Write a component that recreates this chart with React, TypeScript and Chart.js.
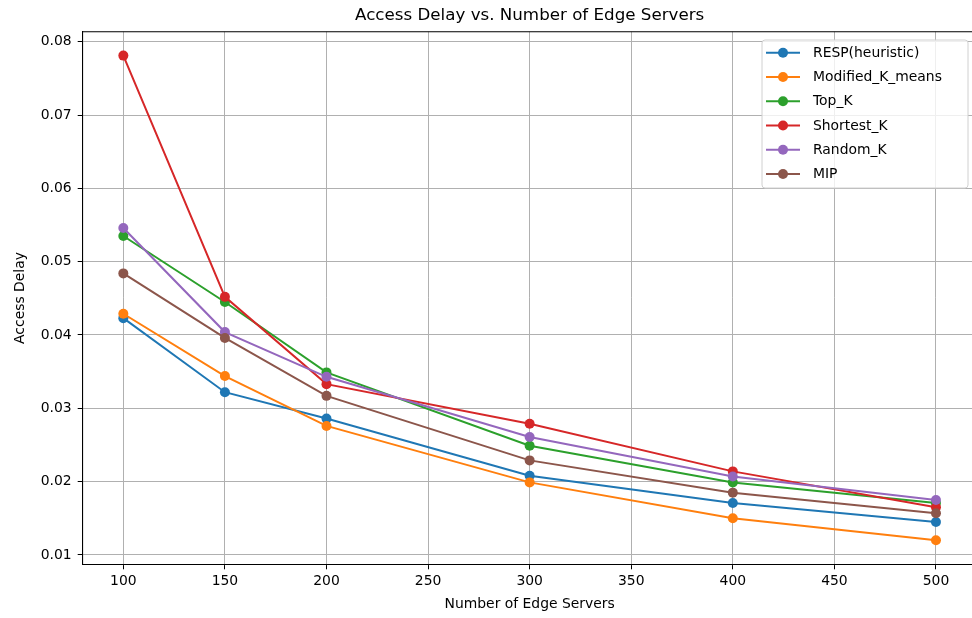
import React, { useEffect, useRef } from "react";
import { Chart, registerables } from "chart.js";

Chart.register(...registerables);

const serverCounts = [100, 150, 200, 300, 400, 500];
const respHeuristic = [0.0423, 0.0322, 0.0286, 0.0208, 0.0171, 0.0145];
const modifiedKMeans = [0.0429, 0.0344, 0.0276, 0.0199, 0.015, 0.012];
const topK = [0.0535, 0.0445, 0.0349, 0.0249, 0.0199, 0.0171];
const shortestK = [0.0781, 0.0452, 0.0333, 0.0279, 0.0214, 0.0165];
const randomK = [0.0546, 0.0404, 0.0343, 0.0261, 0.0207, 0.0175];
const mip = [0.0484, 0.0396, 0.0317, 0.0229, 0.0185, 0.0157];

const seriesLabels = ["RESP(heuristic)", "Modified_K_means", "Top_K", "Shortest_K", "Random_K", "MIP"];
const seriesValues = [respHeuristic, modifiedKMeans, topK, shortestK, randomK, mip];
const seriesColors = ["#1f77b4", "#ff7f0e", "#2ca02c", "#d62728", "#9467bd", "#8c564b"];

const xTicks = [100, 150, 200, 250, 300, 350, 400, 450, 500];
const yTicks = [0.01, 0.02, 0.03, 0.04, 0.05, 0.06, 0.07, 0.08];

const titleText = "Access Delay vs. Number of Edge Servers";
const xTitle = "Number of Edge Servers";
const yTitle = "Access Delay";

const FONT = "'DejaVu Sans', sans-serif";
const CANVAS_W = 990;
const CANVAS_H = 618;

export default function App() {
  const ref = useRef<HTMLCanvasElement | null>(null);

  useEffect(() => {
    const canvas = ref.current;
    if (!canvas) return;

    const decor = {
      id: "decor",
      afterDraw(chart: any) {
        const ctx = chart.ctx;
        const a = chart.chartArea;
        ctx.save();
        // top and right spines
        ctx.strokeStyle = "#000";
        ctx.lineWidth = 1.1;
        ctx.beginPath();
        ctx.moveTo(a.left, a.top);
        ctx.lineTo(a.right, a.top);
        ctx.lineTo(a.right, a.bottom);
        ctx.stroke();

        // title
        ctx.fillStyle = "#000";
        ctx.textAlign = "center";
        ctx.textBaseline = "middle";
        ctx.font = `16.7px ${FONT}`;
        ctx.fillText(titleText, (a.left + a.right) / 2, 15.5);

        // axis titles
        ctx.font = `13.9px ${FONT}`;
        ctx.fillText(xTitle, (a.left + a.right) / 2, 604);
        ctx.save();
        ctx.translate(20, (a.top + a.bottom) / 2);
        ctx.rotate(-Math.PI / 2);
        ctx.fillText(yTitle, 0, 0);
        ctx.restore();

        // legend
        const lx = 762, ly = 40, lw = 206, lh = 148, r = 3;
        ctx.beginPath();
        ctx.moveTo(lx + r, ly);
        ctx.lineTo(lx + lw - r, ly);
        ctx.quadraticCurveTo(lx + lw, ly, lx + lw, ly + r);
        ctx.lineTo(lx + lw, ly + lh - r);
        ctx.quadraticCurveTo(lx + lw, ly + lh, lx + lw - r, ly + lh);
        ctx.lineTo(lx + r, ly + lh);
        ctx.quadraticCurveTo(lx, ly + lh, lx, ly + lh - r);
        ctx.lineTo(lx, ly + r);
        ctx.quadraticCurveTo(lx, ly, lx + r, ly);
        ctx.closePath();
        ctx.fillStyle = "rgba(255,255,255,0.8)";
        ctx.fill();
        ctx.strokeStyle = "#d0d0d0";
        ctx.lineWidth = 1;
        ctx.stroke();

        ctx.textAlign = "left";
        ctx.textBaseline = "middle";
        ctx.font = `13.9px ${FONT}`;
        chart.data.datasets.forEach((ds: any, i: number) => {
          const y = 52.7 + i * 24.25;
          ctx.strokeStyle = ds.borderColor;
          ctx.lineWidth = 2;
          ctx.beginPath();
          ctx.moveTo(766, y);
          ctx.lineTo(800, y);
          ctx.stroke();
          ctx.fillStyle = ds.borderColor;
          ctx.beginPath();
          ctx.arc(783, y, 5, 0, Math.PI * 2);
          ctx.fill();
          ctx.fillStyle = "#000";
          ctx.fillText(ds.label, 813, y + 0.5);
        });
        ctx.restore();
      },
    };

    const chart = new Chart(canvas, {
      type: "line",
      data: {
        datasets: seriesLabels.map((label, i) => ({
          label,
          data: serverCounts.map((x, j) => ({ x, y: seriesValues[i][j] })),
          borderColor: seriesColors[i],
          backgroundColor: seriesColors[i],
          pointBackgroundColor: seriesColors[i],
          pointBorderColor: seriesColors[i],
          pointBorderWidth: 0,
          pointRadius: 5,
          borderWidth: 2,
          tension: 0,
          fill: false,
          order: seriesLabels.length - 1 - i,
        })),
      },
      options: {
        responsive: false,
        animation: false,
        devicePixelRatio: 1,
        layout: { padding: { left: 0, right: CANVAS_W - 976.6, top: 31.7, bottom: 0 } },
        plugins: {
          legend: { display: false },
          title: { display: false },
          tooltip: { enabled: false },
        },
        scales: {
          x: {
            type: "linear",
            min: 80,
            max: 520,
            afterBuildTicks: (scale: any) => {
              scale.ticks = xTicks.map((v) => ({ value: v }));
            },
            afterFit: (scale: any) => {
              scale.height = CANVAS_H - 564.3;
            },
            ticks: {
              autoSkip: false,
              maxRotation: 0,
              minRotation: 0,
              padding: 4,
              color: "#000",
              font: { family: FONT, size: 13.9 },
              callback: (v: any) => String(v),
            },
            grid: {
              color: "#b0b0b0",
              lineWidth: 1,
              drawTicks: true,
              tickLength: 5,
              tickColor: "#000",
            },
            border: { display: true, color: "#000", width: 1.1 },
          },
          y: {
            type: "linear",
            min: 0.00873,
            max: 0.08136,
            afterBuildTicks: (scale: any) => {
              scale.ticks = yTicks.map((v) => ({ value: v }));
            },
            afterFit: (scale: any) => {
              scale.width = 82.7;
            },
            ticks: {
              autoSkip: false,
              padding: 6,
              color: "#000",
              font: { family: FONT, size: 13.9 },
              callback: (v: any) => Number(v).toFixed(2),
            },
            grid: {
              color: "#b0b0b0",
              lineWidth: 1,
              drawTicks: true,
              tickLength: 5,
              tickColor: "#000",
            },
            border: { display: true, color: "#000", width: 1.1 },
          },
        },
      },
      plugins: [decor],
    });

    return () => chart.destroy();
  }, []);

  return (
    <div style={{ position: "fixed", left: 0, top: 0, width: 972, height: 618, overflow: "hidden", background: "#fff" }}>
      <canvas ref={ref} width={CANVAS_W} height={CANVAS_H} style={{ width: CANVAS_W, height: CANVAS_H, display: "block" }} />
    </div>
  );
}
